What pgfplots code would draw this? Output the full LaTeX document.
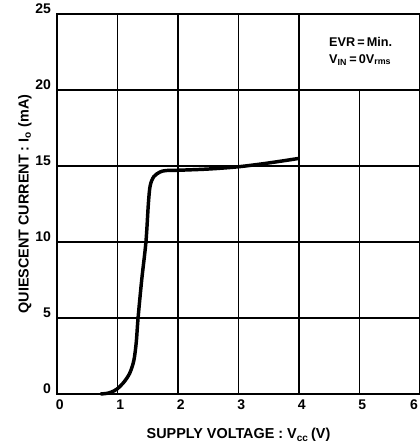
\documentclass[border=0pt]{standalone}
\usepackage{fontspec}
\setmainfont{Liberation Sans}
\usepackage{pgfplots}
\pgfplotsset{compat=1.18}
\usetikzlibrary{calc}
\begin{document}
\begin{tikzpicture}[x=1pt,y=1pt]
\begin{axis}[
  scale only axis,
  width=272.25pt, height=285pt,
  xmin=0, xmax=6, ymin=0, ymax=25,
  xtick={0,1,2,3,4,5,6}, ytick={0,5,10,15,20,25},
  xticklabels={0,1,2,3,4,5,\makebox[0pt][r]{6\hspace{3.5pt}}},
  grid=major,
  major grid style={black, line width=1.1pt},
  axis line style={black, line width=1.6pt},
  major tick length=0pt,
  /pgf/number format/assume math mode=true,
  ticklabel style={font=\fontsize{10.5}{12}\selectfont\bfseries},
  xticklabel style={yshift=-1pt, xshift=2pt},
  yticklabel style={yshift=4pt, xshift=-1pt},
  xlabel={\fontsize{10.8}{12}\selectfont\bfseries SUPPLY VOLTAGE : V$_{\mathbf{cc}}$\,(V)},
  ylabel={\fontsize{10.8}{12}\selectfont\bfseries QUIESCENT CURRENT : I$_{\mathbf{o}}$ (mA)},
  xlabel style={yshift=-7pt},
  ylabel style={yshift=-4pt},
  clip=false,
]
\fill[white, draw=black, line width=1.1pt] (axis cs:4,20) rectangle (axis cs:6,25);
\node[font=\fontsize{9.5}{12.5}\selectfont\bfseries, align=left, anchor=center] at (axis cs:5.02,22.55) {EVR\,=\,Min.\\ V$_{\mathbf{IN}}$\,=\,0V$_{\mathbf{rms}}$};
\addplot[black, line width=2.6pt, smooth, tension=0.5] coordinates {
(0.72,0) (0.85,0.06) (0.95,0.22) (1.0,0.35) (1.1,0.75) (1.2,1.35) (1.27,2.2) (1.31,3.4) (1.34,5) (1.4,7.5) (1.47,10) (1.51,12.5) (1.54,13.7) (1.6,14.3) (1.7,14.6) (1.8,14.7) (2.0,14.72) (2.5,14.8) (3.0,14.95) (3.5,15.2) (4.0,15.5)
};
\end{axis}
\pgfresetboundingbox
\path ($(current axis.south west)+(-42.75pt,-36.75pt)$) rectangle ($(current axis.north east)+(0pt,10.5pt)$);
\end{tikzpicture}
\end{document}
